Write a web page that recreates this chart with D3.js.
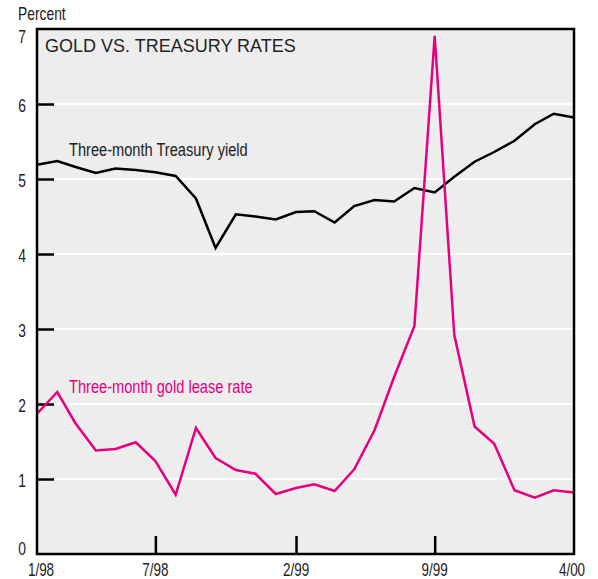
<!DOCTYPE html>
<html>
<head>
<meta charset="utf-8">
<script src="https://cdn.jsdelivr.net/npm/d3@7"></script>
<style>
  body { margin: 0; background: #fff; }
  svg { display: block; }
  .narrow { font-family: "Liberation Sans", Arial, sans-serif; }
</style>
</head>
<body>
<div id="chart"></div>
<script>
// monthly observations, 1/98 .. 4/00
var startMonth = new Date(1998, 0, 1);
var treasury = [5.19, 5.24, 5.16, 5.08, 5.14, 5.12, 5.09, 5.04, 4.74, 4.08,
  4.53, 4.50, 4.46, 4.56, 4.57, 4.42, 4.64, 4.72, 4.70, 4.88,
  4.82, 5.03, 5.23, 5.36, 5.51, 5.73, 5.87, 5.82];
var goldLease = [1.87, 2.16, 1.74, 1.38, 1.40, 1.49, 1.24, 0.79, 1.68, 1.28,
  1.12, 1.07, 0.80, 0.88, 0.93, 0.84, 1.13, 1.65, 2.36, 3.04,
  6.91, 2.92, 1.70, 1.47, 0.85, 0.75, 0.85, 0.82];
var xTickLabels = ['1/98', '7/98', '2/99', '9/99', '4/00'];
var yTicks = [0, 1, 2, 3, 4, 5, 6, 7];

var width = 598, height = 579;
var margin = { left: 37, right: 24, top: 29, bottom: 25 };
var squeeze = 0.77; // fake a condensed face

var dates = treasury.map(function(v, i) {
  return d3.timeMonth.offset(startMonth, i);
});
var parseTick = d3.timeParse('%m/%y');
var tickDates = xTickLabels.map(function(t) { return parseTick(t); });

var x = d3.scaleTime()
  .domain(d3.extent(dates))
  .range([margin.left, width - margin.right]);
var y = d3.scaleLinear()
  .domain([0, 7])
  .range([height - margin.bottom, margin.top]);

var svg = d3.select('#chart').append('svg')
  .attr('width', width)
  .attr('height', height);

function placeNarrow(px, py) {
  return 'translate(' + px + ',' + py + ') scale(' + squeeze + ',1)';
}

// plot background
svg.append('rect')
  .attr('x', x.range()[0])
  .attr('y', y(7))
  .attr('width', x.range()[1] - x.range()[0])
  .attr('height', y(0) - y(7))
  .attr('fill', '#ededed');

// white gridlines
svg.append('g')
  .selectAll('line')
  .data(yTicks.slice(1, -1))
  .enter().append('line')
  .attr('x1', x.range()[0])
  .attr('x2', x.range()[1])
  .attr('y1', function(d) { return y(d); })
  .attr('y2', function(d) { return y(d); })
  .attr('stroke', '#fff')
  .attr('stroke-width', 2);

// y axis: inner ticks + labels
var yAxis = svg.append('g')
  .attr('transform', 'translate(' + x.range()[0] + ',0)')
  .call(d3.axisRight(y).tickValues(yTicks.slice(1, -1)).tickSize(17).tickFormat(''));
yAxis.select('.domain').remove();
yAxis.selectAll('line').attr('stroke', '#000').attr('stroke-width', 2.5);

svg.append('g')
  .attr('class', 'narrow')
  .selectAll('text')
  .data(yTicks)
  .enter().append('text')
  .attr('transform', function(d) {
    var shift = d === 7 ? 14 : (d === 0 ? 1 : 8);
    return placeNarrow(26, y(d) + shift);
  })
  .attr('text-anchor', 'end')
  .attr('font-size', 18)
  .attr('fill', '#222')
  .text(function(d) { return d; });

// x axis: inner ticks + labels
var xAxis = svg.append('g')
  .attr('transform', 'translate(0,' + y(0) + ')')
  .call(d3.axisTop(x).tickValues(tickDates.slice(1, -1)).tickSize(18).tickFormat(''));
xAxis.select('.domain').remove();
xAxis.selectAll('line').attr('stroke', '#000').attr('stroke-width', 2.5);

svg.append('g')
  .attr('class', 'narrow')
  .selectAll('text')
  .data(tickDates)
  .enter().append('text')
  .attr('transform', function(d, i) {
    var nudge = i === 0 ? 4 : (i === tickDates.length - 1 ? -2 : 0);
    return placeNarrow(x(d) + nudge, 576);
  })
  .attr('text-anchor', 'middle')
  .attr('font-size', 17.5)
  .attr('fill', '#222')
  .text(function(d, i) { return xTickLabels[i]; });

svg.append('text')
  .attr('class', 'narrow')
  .attr('transform', placeNarrow(18, 20))
  .attr('font-size', 18)
  .attr('fill', '#222')
  .text('Percent');

// series
var line = d3.line()
  .x(function(d, i) { return x(dates[i]); })
  .y(function(d) { return y(d); });

svg.append('path')
  .datum(treasury)
  .attr('d', line)
  .attr('fill', 'none')
  .attr('stroke', '#000')
  .attr('stroke-width', 2.5)
  .attr('stroke-linejoin', 'miter');

svg.append('path')
  .datum(goldLease)
  .attr('d', line)
  .attr('fill', 'none')
  .attr('stroke', '#e6007e')
  .attr('stroke-width', 2.5)
  .attr('stroke-linejoin', 'miter');

// frame
svg.append('rect')
  .attr('x', x.range()[0])
  .attr('y', y(7))
  .attr('width', x.range()[1] - x.range()[0])
  .attr('height', y(0) - y(7))
  .attr('fill', 'none')
  .attr('stroke', '#000')
  .attr('stroke-width', 2.5);

// labels
svg.append('text')
  .attr('x', 45)
  .attr('y', 52)
  .attr('font-family', '"Liberation Sans", Arial, sans-serif')
  .attr('font-size', 18)
  .attr('fill', '#222')
  .text('GOLD VS. TREASURY RATES');

svg.append('text')
  .attr('class', 'narrow')
  .attr('transform', placeNarrow(69, 156))
  .attr('font-size', 19)
  .attr('fill', '#222')
  .text('Three-month Treasury yield');

svg.append('text')
  .attr('class', 'narrow')
  .attr('transform', placeNarrow(69, 393))
  .attr('font-size', 19)
  .attr('fill', '#e6007e')
  .text('Three-month gold lease rate');
</script>
</body>
</html>
